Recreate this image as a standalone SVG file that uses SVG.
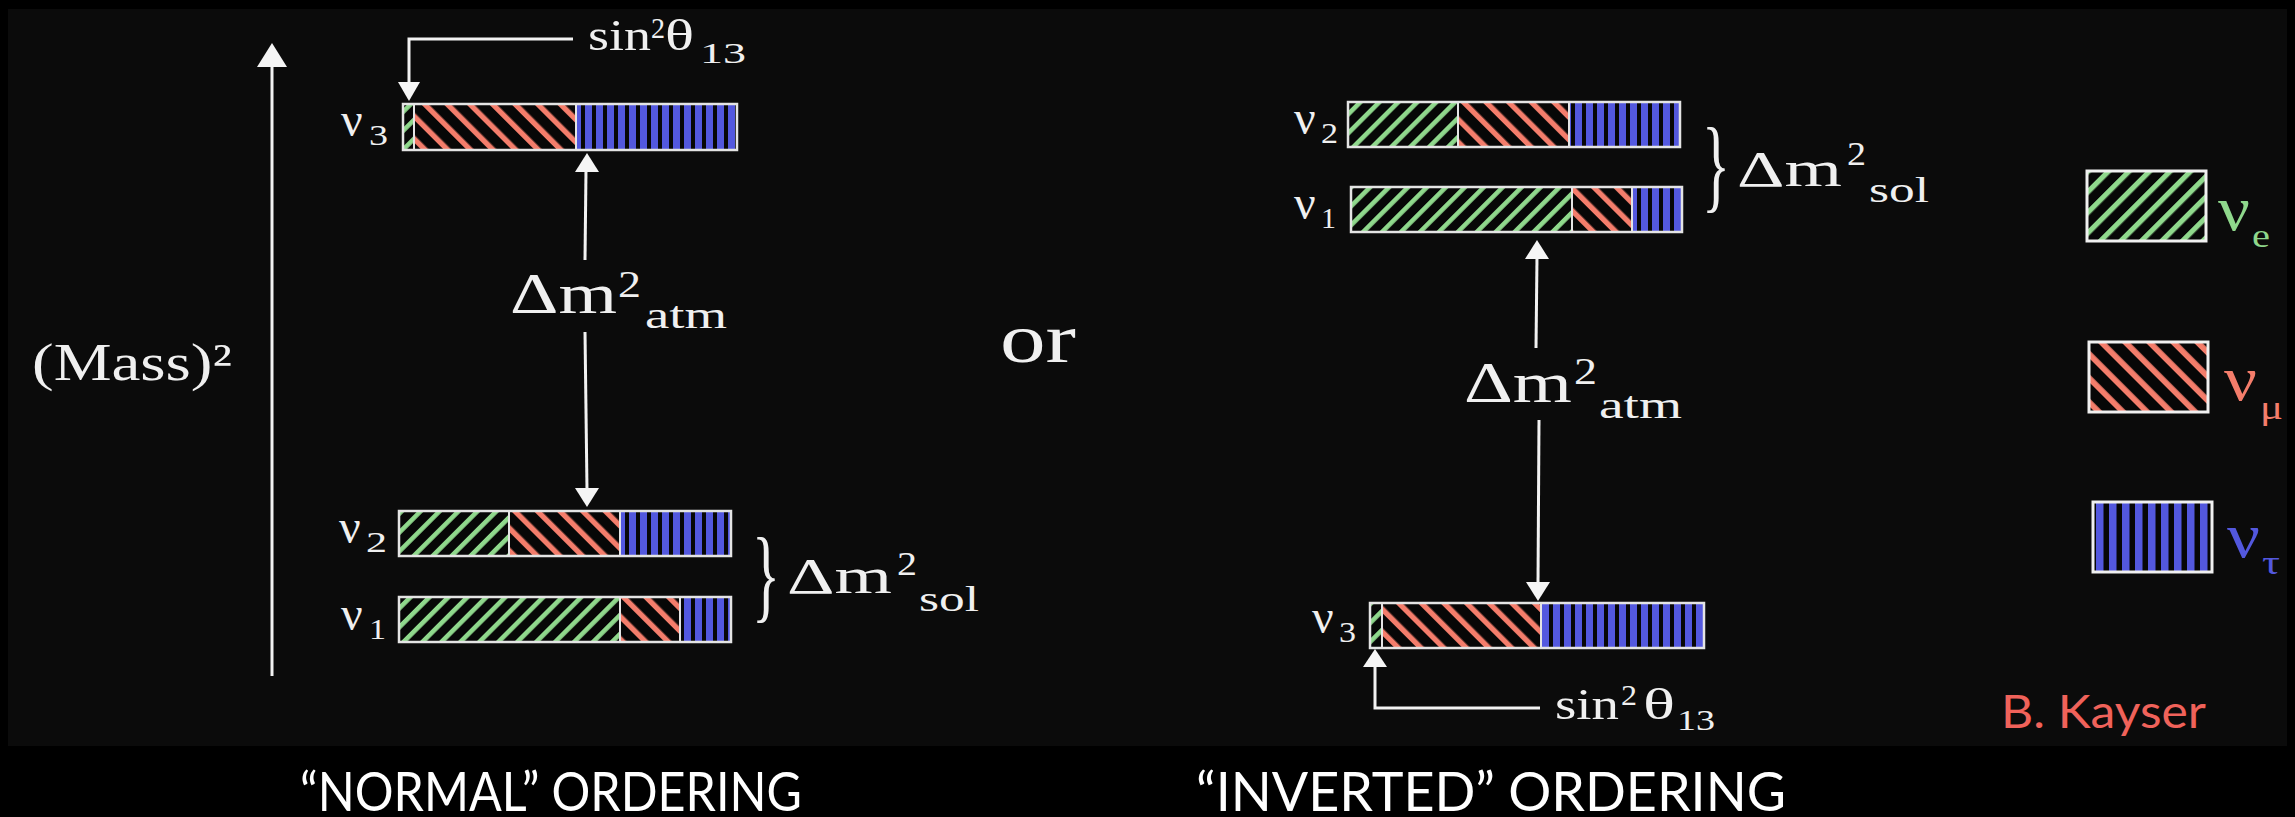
<svg xmlns="http://www.w3.org/2000/svg" width="2295" height="817" viewBox="0 0 2295 817">
<style>
.box{fill:none;stroke:#e4e4e4;stroke-width:2.5}
.dv{stroke:#e4e4e4;stroke-width:2}
.ln{stroke:#f2f2f2;stroke-width:3;fill:none}
.ah{fill:#f5f5f5}
.sf{font-family:"Liberation Serif","Times New Roman",serif;fill:#f0f0f0}
.tt{font-family:Lato,"Open Sans","DejaVu Sans",sans-serif;fill:#ffffff;font-size:54px}
</style>
<defs>
<pattern id="pg" width="13.4" height="13.4" patternUnits="userSpaceOnUse" patternTransform="rotate(45)"><rect width="13.4" height="13.4" fill="#070707"/><rect width="4.6" height="13.4" fill="#8fd88c"/></pattern>
<pattern id="pr" width="16" height="16" patternUnits="userSpaceOnUse" patternTransform="rotate(-45)"><rect width="16" height="16" fill="#070707"/><rect width="5.4" height="16" fill="#f47d6b"/></pattern>
<pattern id="pb" width="11" height="10" patternUnits="userSpaceOnUse"><rect width="11" height="10" fill="#070707"/><rect x="2" width="7" height="10" fill="#5358de"/></pattern>
<pattern id="pg2" width="14.5" height="14.5" patternUnits="userSpaceOnUse" patternTransform="rotate(45)"><rect width="14.5" height="14.5" fill="#070707"/><rect width="5.2" height="14.5" fill="#8fd88c"/></pattern>
<pattern id="pr2" width="17" height="17" patternUnits="userSpaceOnUse" patternTransform="rotate(-45)"><rect width="17" height="17" fill="#070707"/><rect width="5.8" height="17" fill="#f47d6b"/></pattern>
<pattern id="pb2" width="13" height="10" patternUnits="userSpaceOnUse"><rect width="13" height="10" fill="#070707"/><rect x="3" width="7.5" height="10" fill="#5358de"/></pattern>
</defs>
<rect width="2295" height="817" fill="#000"/>
<rect x="8" y="9" width="2279" height="737" fill="#0b0b0b"/>

<!-- Normal ordering -->
<g id="mass-axis">
<text class="sf" x="32" y="380" font-size="52" textLength="200" lengthAdjust="spacingAndGlyphs">(Mass)²</text>
</g>

<g id="n-nu3">
<text class="sf" x="341" y="136" font-size="48">ν</text>
<text class="sf" x="369" y="145" font-size="30" textLength="19" lengthAdjust="spacingAndGlyphs">3</text>
<rect x="403" y="104" width="11" height="46" fill="url(#pg)"/>
<rect x="414" y="104" width="162" height="46" fill="url(#pr)"/>
<rect x="576" y="104" width="161" height="46" fill="url(#pb)"/>
<line class="dv" x1="414" y1="104" x2="414" y2="150"/>
<line class="dv" x1="576" y1="104" x2="576" y2="150"/>
<rect class="box" x="403" y="104" width="334" height="46"/>
</g>

<g id="n-nu2">
<text class="sf" x="339" y="543" font-size="48">ν</text>
<text class="sf" x="366" y="552" font-size="30" textLength="21" lengthAdjust="spacingAndGlyphs">2</text>
<rect x="399" y="511" width="110" height="45" fill="url(#pg)"/>
<rect x="509" y="511" width="111" height="45" fill="url(#pr)"/>
<rect x="620" y="511" width="111" height="45" fill="url(#pb)"/>
<line class="dv" x1="509" y1="511" x2="509" y2="556"/>
<line class="dv" x1="620" y1="511" x2="620" y2="556"/>
<rect class="box" x="399" y="511" width="332" height="45"/>
</g>

<g id="n-nu1">
<text class="sf" x="341" y="630" font-size="48">ν</text>
<text class="sf" x="369" y="639" font-size="30" textLength="17" lengthAdjust="spacingAndGlyphs">1</text>
<rect x="399" y="597" width="221" height="45" fill="url(#pg)"/>
<rect x="620" y="597" width="60" height="45" fill="url(#pr)"/>
<rect x="680" y="597" width="51" height="45" fill="url(#pb)"/>
<line class="dv" x1="620" y1="597" x2="620" y2="642"/>
<line class="dv" x1="680" y1="597" x2="680" y2="642"/>
<rect class="box" x="399" y="597" width="332" height="45"/>
</g>

<g id="n-sin-label">
<text class="sf" x="588" y="50" font-size="44" textLength="63" lengthAdjust="spacingAndGlyphs">sin</text>
<text class="sf" x="651" y="38" font-size="30" textLength="14" lengthAdjust="spacingAndGlyphs">2</text>
<text class="sf" x="665" y="50" font-size="44" textLength="29" lengthAdjust="spacingAndGlyphs">θ</text>
<text class="sf" x="700" y="63" font-size="30" textLength="46" lengthAdjust="spacingAndGlyphs">13</text>
</g>

<g id="n-atm-label">
<text class="sf" x="510" y="313" font-size="58" textLength="107" lengthAdjust="spacingAndGlyphs">Δm</text>
<text class="sf" x="618" y="297" font-size="37" textLength="23" lengthAdjust="spacingAndGlyphs">2</text>
<text class="sf" x="645" y="328" font-size="38" textLength="82" lengthAdjust="spacingAndGlyphs">atm</text>
</g>

<g id="n-sol-label">
<text class="sf" x="752" y="609" font-size="104" textLength="28" lengthAdjust="spacingAndGlyphs">}</text>
<text class="sf" x="787" y="593" font-size="50" textLength="105" lengthAdjust="spacingAndGlyphs">Δm</text>
<text class="sf" x="897" y="575" font-size="33" textLength="20" lengthAdjust="spacingAndGlyphs">2</text>
<text class="sf" x="919" y="611" font-size="36" textLength="60" lengthAdjust="spacingAndGlyphs">sol</text>
</g>

<g id="or-label">
<text class="sf" x="1000" y="362" font-size="70" textLength="76" lengthAdjust="spacingAndGlyphs">or</text>
</g>

<!-- Inverted ordering -->
<g id="i-nu2">
<text class="sf" x="1294" y="134" font-size="48">ν</text>
<text class="sf" x="1321" y="143" font-size="30" textLength="17" lengthAdjust="spacingAndGlyphs">2</text>
<rect x="1348" y="102" width="110" height="45" fill="url(#pg)"/>
<rect x="1458" y="102" width="111" height="45" fill="url(#pr)"/>
<rect x="1569" y="102" width="111" height="45" fill="url(#pb)"/>
<line class="dv" x1="1458" y1="102" x2="1458" y2="147"/>
<line class="dv" x1="1569" y1="102" x2="1569" y2="147"/>
<rect class="box" x="1348" y="102" width="332" height="45"/>
</g>

<g id="i-nu1">
<text class="sf" x="1294" y="219" font-size="48">ν</text>
<text class="sf" x="1321" y="228" font-size="30" textLength="15" lengthAdjust="spacingAndGlyphs">1</text>
<rect x="1351" y="187" width="221" height="45" fill="url(#pg)"/>
<rect x="1572" y="187" width="60" height="45" fill="url(#pr)"/>
<rect x="1632" y="187" width="50" height="45" fill="url(#pb)"/>
<line class="dv" x1="1572" y1="187" x2="1572" y2="232"/>
<line class="dv" x1="1632" y1="187" x2="1632" y2="232"/>
<rect class="box" x="1351" y="187" width="331" height="45"/>
</g>

<g id="i-nu3">
<text class="sf" x="1312" y="633" font-size="48">ν</text>
<text class="sf" x="1339" y="642" font-size="30" textLength="17" lengthAdjust="spacingAndGlyphs">3</text>
<rect x="1370" y="603" width="12" height="45" fill="url(#pg)"/>
<rect x="1382" y="603" width="159" height="45" fill="url(#pr)"/>
<rect x="1541" y="603" width="163" height="45" fill="url(#pb)"/>
<line class="dv" x1="1382" y1="603" x2="1382" y2="648"/>
<line class="dv" x1="1541" y1="603" x2="1541" y2="648"/>
<rect class="box" x="1370" y="603" width="334" height="45"/>
</g>

<g id="i-sol-label">
<text class="sf" x="1702" y="199" font-size="104" textLength="28" lengthAdjust="spacingAndGlyphs">}</text>
<text class="sf" x="1737" y="186" font-size="50" textLength="105" lengthAdjust="spacingAndGlyphs">Δm</text>
<text class="sf" x="1847" y="165" font-size="33" textLength="19" lengthAdjust="spacingAndGlyphs">2</text>
<text class="sf" x="1869" y="202" font-size="36" textLength="60" lengthAdjust="spacingAndGlyphs">sol</text>
</g>

<g id="i-atm-label">
<text class="sf" x="1464" y="402" font-size="58" textLength="108" lengthAdjust="spacingAndGlyphs">Δm</text>
<text class="sf" x="1574" y="384" font-size="37" textLength="23" lengthAdjust="spacingAndGlyphs">2</text>
<text class="sf" x="1599" y="418" font-size="38" textLength="83" lengthAdjust="spacingAndGlyphs">atm</text>
</g>

<g id="i-sin-label">
<text class="sf" x="1555" y="719" font-size="44" textLength="64" lengthAdjust="spacingAndGlyphs">sin</text>
<text class="sf" x="1621" y="705" font-size="30" textLength="16" lengthAdjust="spacingAndGlyphs">2</text>
<text class="sf" x="1643" y="719" font-size="44" textLength="32" lengthAdjust="spacingAndGlyphs">θ</text>
<text class="sf" x="1677" y="730" font-size="30" textLength="38" lengthAdjust="spacingAndGlyphs">13</text>
</g>

<!-- Legend -->
<g id="legend-e">
<rect x="2087" y="171" width="119" height="70" fill="url(#pg2)" stroke="#f0f0f0" stroke-width="3"/>
<text x="2218" y="230" font-family="Liberation Serif, serif" font-size="64" fill="#8fd88c" textLength="32" lengthAdjust="spacingAndGlyphs">ν</text>
<text x="2252" y="247" font-family="Liberation Serif, serif" font-size="34" fill="#8fd88c" textLength="18" lengthAdjust="spacingAndGlyphs">e</text>
</g>
<g id="legend-mu">
<rect x="2089" y="342" width="119" height="70" fill="url(#pr2)" stroke="#f0f0f0" stroke-width="3"/>
<text x="2224" y="400" font-family="Liberation Serif, serif" font-size="64" fill="#f47d6b" textLength="33" lengthAdjust="spacingAndGlyphs">ν</text>
<text x="2260" y="419" font-family="Liberation Serif, serif" font-size="34" fill="#f47d6b" textLength="23" lengthAdjust="spacingAndGlyphs">μ</text>
</g>
<g id="legend-tau">
<rect x="2093" y="502" width="119" height="70" fill="url(#pb2)" stroke="#f0f0f0" stroke-width="3"/>
<text x="2227" y="557" font-family="Liberation Serif, serif" font-size="64" fill="#5358de" textLength="33" lengthAdjust="spacingAndGlyphs">ν</text>
<text x="2262" y="574" font-family="Liberation Serif, serif" font-size="34" fill="#5358de" textLength="18" lengthAdjust="spacingAndGlyphs">τ</text>
</g>
<g id="credit">
<text x="2001" y="728" font-family="Lato, 'Open Sans', sans-serif" font-size="46" fill="#f0625a" textLength="205" lengthAdjust="spacingAndGlyphs">B. Kayser</text>
</g>

<!-- Titles -->
<g id="title-normal"><text class="tt" x="300" y="811" textLength="502" lengthAdjust="spacingAndGlyphs">“NORMAL” ORDERING</text></g>
<g id="title-inverted"><text class="tt" x="1196" y="811" textLength="590" lengthAdjust="spacingAndGlyphs">“INVERTED” ORDERING</text></g>

<!-- Connectors -->
<g id="connectors">
<line class="ln" x1="272" y1="676" x2="272" y2="64"/>
<polygon class="ah" points="257,67 287,67 272,43"/>
<polyline class="ln" points="573,39 409,39 409,84"/>
<polygon class="ah" points="398,82 420,82 409,101"/>
<line class="ln" x1="586" y1="170" x2="585" y2="260"/>
<polygon class="ah" points="575,172 599,172 587,153"/>
<line class="ln" x1="585" y1="332" x2="587" y2="490"/>
<polygon class="ah" points="575,488 599,488 587,507"/>
<line class="ln" x1="1537" y1="257" x2="1536" y2="348"/>
<polygon class="ah" points="1525,259 1549,259 1537,240"/>
<line class="ln" x1="1539" y1="420" x2="1538" y2="584"/>
<polygon class="ah" points="1526,582 1550,582 1538,601"/>
<polyline class="ln" points="1540,708 1375,708 1375,665"/>
<polygon class="ah" points="1363,667 1387,667 1375,649"/>
</g>
</svg>
